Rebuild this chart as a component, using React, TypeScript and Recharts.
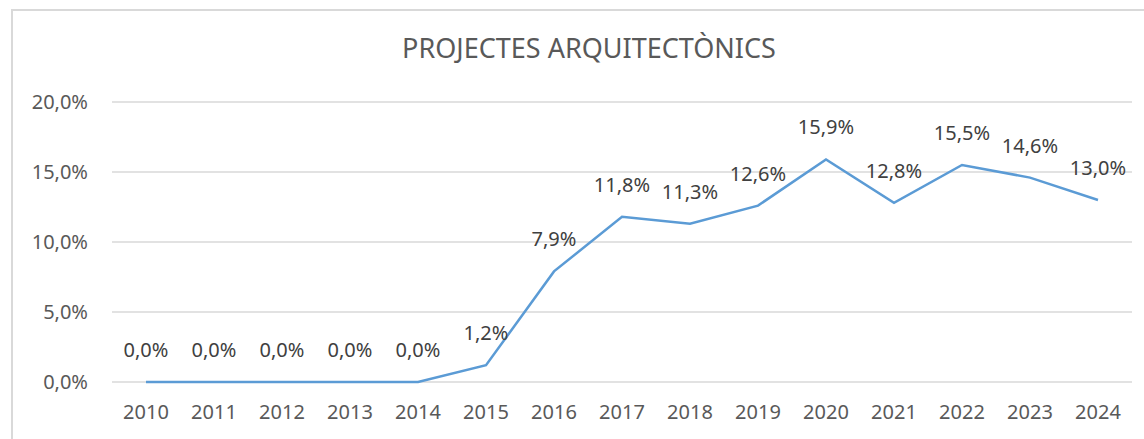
import React from 'react';
import { LineChart, Line, XAxis, YAxis, CartesianGrid, LabelList } from 'recharts';

const years = ['2010', '2011', '2012', '2013', '2014', '2015', '2016', '2017', '2018', '2019', '2020', '2021', '2022', '2023', '2024'];
const values = [0, 0, 0, 0, 0, 1.2, 7.9, 11.8, 11.3, 12.6, 15.9, 12.8, 15.5, 14.6, 13.0];
const yTicks = [0, 5, 10, 15, 20];
const title = 'PROJECTES ARQUITECTÒNICS';

const data = years.map((y, i) => ({ year: y, value: values[i] }));
const fmt = (v: number) => v.toFixed(1).replace('.', ',') + '%';
const FONT = '"Noto Sans", "Open Sans", sans-serif';

export default function App() {
  return (
    <div style={{ position: 'absolute', left: 0, top: 0, width: 1144, height: 439, overflow: 'hidden', background: '#fff' }}>
      <svg width={1144} height={439} style={{ position: 'absolute', left: 0, top: 0 }}>
        <rect x={12} y={10} width={1300} height={600} fill="none" stroke="#d9d9d9" strokeWidth={2} />
        <text x={589} y={58} textAnchor="middle" fontFamily={FONT} fontSize={27} fill="#595959">{title}</text>
      </svg>
      <div style={{ position: 'absolute', left: 0, top: 0 }}>
        <LineChart width={1144} height={439} data={data} margin={{ top: 102, right: 12, bottom: 0, left: 0 }}>
          <CartesianGrid vertical={false} stroke="#d9d9d9" strokeWidth={1.3} />
          <XAxis
            dataKey="year"
            axisLine={false}
            tickLine={false}
            tickSize={0}
            tickMargin={23}
            height={57}
            padding={{ left: 34, right: 34 }}
            interval={0}
            tick={{ fill: '#595959', fontSize: 20, fontFamily: FONT }}
          />
          <YAxis
            domain={[0, 20]}
            ticks={yTicks}
            width={112}
            axisLine={false}
            tickLine={false}
            tickSize={0}
            tickMargin={24}
            tickFormatter={fmt}
            tick={{ fill: '#595959', fontSize: 20, fontFamily: FONT }}
          />
          <Line
            type="linear"
            dataKey="value"
            stroke="#5B9BD5"
            strokeWidth={2.5}
            dot={false}
            isAnimationActive={false}
          >
            <LabelList
              dataKey="value"
              position="top"
              offset={25}
              formatter={(v: any) => fmt(Number(v))}
              style={{ fill: '#404040', fontSize: 20, fontFamily: FONT }}
            />
          </Line>
        </LineChart>
      </div>
    </div>
  );
}
